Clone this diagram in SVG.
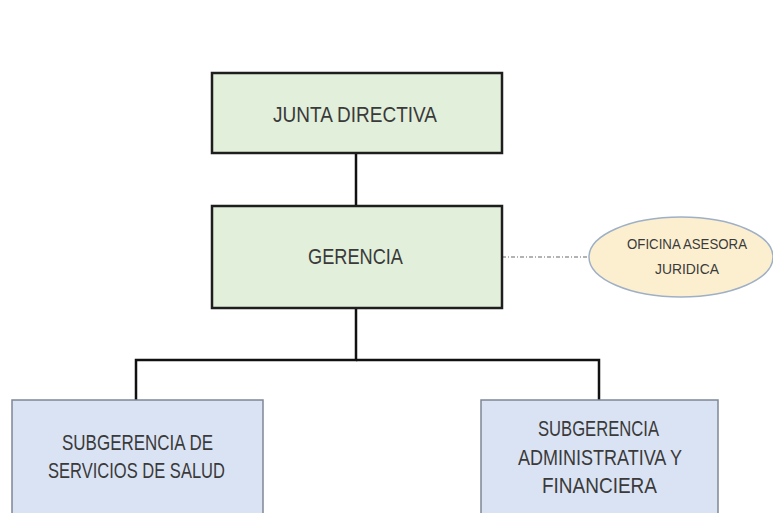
<svg xmlns="http://www.w3.org/2000/svg" width="773" height="513" viewBox="0 0 773 513">
<style>
text{font-family:"Liberation Sans",Arial,sans-serif;fill:#3a3a3a;text-anchor:middle}
.g{fill:#e2efda;stroke:#1e1e1e;stroke-width:2.5}
.b{fill:#dae3f3;stroke:#7f8796;stroke-width:1.5}
.o{fill:#fcefcf;stroke:#9fb0c6;stroke-width:1.5}
.c{fill:none;stroke:#111;stroke-width:2.5}
.d{fill:none;stroke:#9a9a9a;stroke-width:1.5;stroke-dasharray:4 2 1 2}
.t{font-size:22px}
.s{font-size:15px}
</style>
<rect width="773" height="513" fill="#fff"/>
<g id="connectors">
<line class="c" x1="356" y1="153" x2="356" y2="206"/>
<polyline class="c" points="356,308 356,360 136,360 136,400"/>
<polyline class="c" points="356,360 599,360 599,400"/>
<line class="d" x1="502" y1="257" x2="589" y2="257"/>
</g>
<g id="junta">
<rect class="g" x="212" y="73" width="290" height="80"/>
<text class="t" x="355" y="122" textLength="164" lengthAdjust="spacingAndGlyphs">JUNTA DIRECTIVA</text>
</g>
<g id="gerencia">
<rect class="g" x="212" y="206" width="290" height="102"/>
<text class="t" x="355.5" y="264" textLength="95" lengthAdjust="spacingAndGlyphs">GERENCIA</text>
</g>
<g id="oficina">
<ellipse class="o" cx="681" cy="257" rx="92" ry="40"/>
<text class="s" x="687" y="249" textLength="120" lengthAdjust="spacingAndGlyphs">OFICINA ASESORA</text>
<text class="s" x="687" y="274" textLength="64" lengthAdjust="spacingAndGlyphs">JURIDICA</text>
</g>
<g id="salud">
<rect class="b" x="12" y="400" width="251" height="120"/>
<text class="t" x="137.5" y="450" textLength="151" lengthAdjust="spacingAndGlyphs">SUBGERENCIA DE</text>
<text class="t" x="136.5" y="478" textLength="177" lengthAdjust="spacingAndGlyphs">SERVICIOS DE SALUD</text>
</g>
<g id="administrativa">
<rect class="b" x="481" y="400" width="237" height="120"/>
<text class="t" x="598.5" y="436" textLength="121" lengthAdjust="spacingAndGlyphs">SUBGERENCIA</text>
<text class="t" x="600" y="465" textLength="164" lengthAdjust="spacingAndGlyphs">ADMINISTRATIVA Y</text>
<text class="t" x="599.5" y="493" textLength="115" lengthAdjust="spacingAndGlyphs">FINANCIERA</text>
</g>
</svg>
